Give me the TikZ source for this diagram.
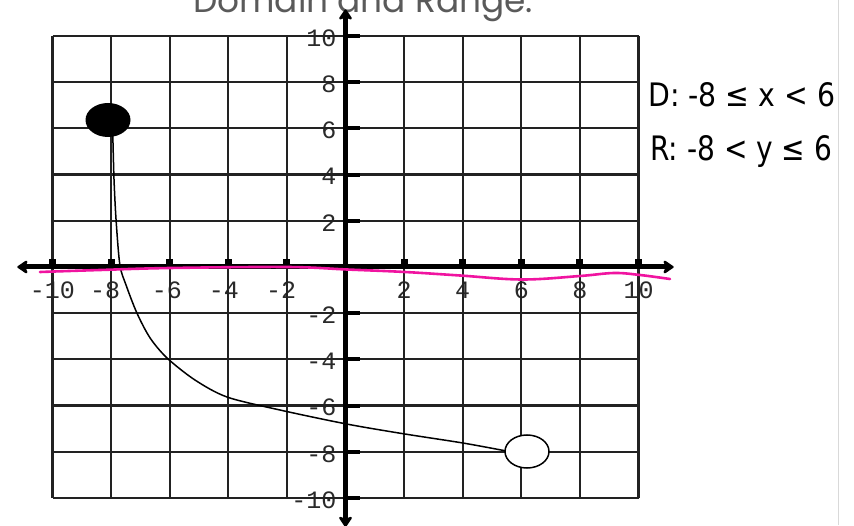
\documentclass[tikz,border=0pt]{standalone}
\usepackage{fontspec}
\usetikzlibrary{arrows.meta}
\newfontfamily\tickfont{Liberation Mono}
\newfontfamily\titlefont{Poppins}
\newfontfamily\handfont{DejaVu Sans}
\definecolor{gridc}{HTML}{222222}
\definecolor{labc}{HTML}{2A2A2A}
\definecolor{pinkc}{RGB}{240,20,160}
\definecolor{titlec}{HTML}{5A5A5A}
\tikzset{
  gridline/.style={gridc, line width=2.2pt},
  axisline/.style={black, line width=5.5pt,
    {Stealth[length=12pt,width=16pt,inset=3pt,round]}-{Stealth[length=12pt,width=16pt,inset=3pt,round]}},
  ticklab/.style={font=\tickfont\fontsize{25}{25}\selectfont, text=labc, inner sep=0pt},
  handtext/.style={font=\handfont\fontsize{30}{30}\selectfont, text=black, inner sep=0pt, anchor=base west},
  curveline/.style={black, line width=1.5pt},
}
\begin{document}
\begin{tikzpicture}[x=1pt,y=1pt]
\useasboundingbox (0,0) rectangle (854,525);
\clip (0,0) rectangle (854,525);
\fill[white] (0,0) rectangle (854,525);
% title (clipped at top, as in the reference)
\node[anchor=base west, inner sep=0pt, text=titlec] (title) at (193,512)
  {\resizebox{340pt}{!}{\titlefont Domain and Range:}};
% right border
\draw[black!15, line width=1pt] (838.5,0) -- (838.5,525);
\begin{scope}[shift={(345.5pt,258pt)}, x=29.3pt, y=23.1pt]
  % x tick labels
  \foreach \v/\p in {-10/-10, -8/-8.2, -6/-6.1, -4/-4.15, -2/-2.2, 2/2, 4/4, 6/6, 8/8, 10/10}
    \node[ticklab] (xl\v) at (\p,-1) {\v};
  % y tick labels
  \foreach \v in {-10,-8,-6,-4,-2,2,4,6,8,10}
    \node[ticklab, anchor=east, xshift=-9pt, yshift=-2pt] (yl\v) at (0,\v) {\v};
  % grid
  \foreach \i in {-10,-8,...,10} {
    \draw[gridline] (\i,-10) -- (\i,10);
    \draw[gridline] (-10,\i) -- (10,\i);
  }
  % axes
  \coordinate (xa) at (-11.2,0);
  \coordinate (xb) at (11.2,0);
  \coordinate (ya) at (0,-11.25);
  \coordinate (yb) at (0,11.15);
  \draw[axisline, line width=5pt] (xa) -- (xb);
  \draw[axisline] (ya) -- (yb);
  % ticks
  \foreach \i in {-10,-8,-6,-4,-2,2,4,6,8,10} {
    \fill[black] ([xshift=-3.5pt]\i,0) rectangle ([xshift=3.5pt,yshift=8pt]\i,0);
    \draw[black, line width=4pt] (0,\i) -- ([xshift=14pt]0,\i);
  }
  % curve
  \draw[curveline] plot[smooth, tension=0.5] coordinates {
    (-7.96,6.0) (-7.94,5.58) (-7.90,3.77) (-7.83,2.03) (-7.70,0.09) (-7.49,-0.78)
    (-7.12,-1.99) (-6.67,-3.07) (-6.09,-3.94) (-5.14,-4.89) (-4.04,-5.63)
    (-2.24,-6.19) (0.05,-6.80) (2.03,-7.23) (4.01,-7.62) (5.51,-7.97)};
\end{scope}
% closed dot and open circle
\fill[black] (108,405) ellipse [x radius=22.5pt, y radius=17pt];
\node[draw=none, inner sep=0pt] (closed) at (108,405) {};
\draw[black, line width=1.5pt, fill=white] (527,73.5) ellipse [x radius=22pt, y radius=16.5pt];
\node[draw=none, inner sep=0pt] (open) at (527,73.5) {};
% pink hand-drawn line
\draw[pinkc, line width=2.6pt, line cap=round] plot[smooth, tension=0.6] coordinates {
  (40,253) (100,255) (170,257) (287,258) (347,255.5) (405,253) (460,249.5)
  (522,245.5) (580,249) (614,252) (640,250) (670,246)};
% handwritten domain / range
\node[handtext] (dom) at (648,418) {\resizebox{187pt}{24pt}{D: -8 ≤ x < 6}};
\node[handtext] (ran) at (650,364) {\resizebox{182pt}{25pt}{R: -8 < y ≤ 6}};
\end{tikzpicture}
\end{document}
